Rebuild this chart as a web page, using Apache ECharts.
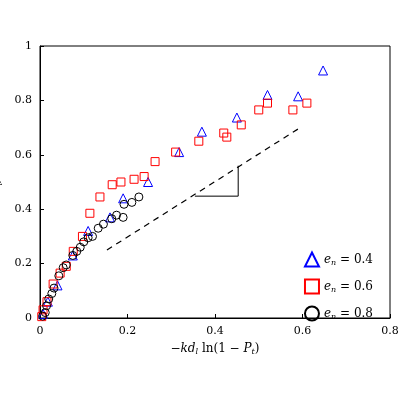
<!DOCTYPE html>
<html><head><meta charset="utf-8">
<script src="https://cdn.jsdelivr.net/npm/echarts@6/dist/echarts.min.js"></script>
<style>body{margin:0}#c{width:400px;height:400px}</style>
</head><body><div id="c"></div>
<script>
var tri04 = [[0.007,0.015],[0.018,0.06],[0.04,0.12],[0.075,0.23],[0.11,0.32],[0.16,0.37],[0.19,0.44],[0.247,0.50],[0.318,0.61],[0.37,0.685],[0.45,0.737],[0.52,0.82],[0.59,0.815],[0.647,0.91]];
var sq06 = [[0.004,0.005],[0.007,0.03],[0.016,0.06],[0.03,0.125],[0.046,0.165],[0.06,0.19],[0.076,0.245],[0.097,0.30],[0.114,0.385],[0.137,0.445],[0.165,0.49],[0.185,0.50],[0.215,0.51],[0.238,0.52],[0.263,0.575],[0.31,0.61],[0.363,0.65],[0.42,0.68],[0.427,0.665],[0.46,0.71],[0.50,0.765],[0.52,0.79],[0.578,0.765],[0.61,0.79]];
var circ08 = [[0.006,0.007],[0.012,0.02],[0.015,0.045],[0.02,0.07],[0.027,0.09],[0.032,0.11],[0.043,0.155],[0.053,0.185],[0.06,0.195],[0.075,0.23],[0.084,0.245],[0.092,0.26],[0.1,0.28],[0.11,0.295],[0.12,0.30],[0.133,0.33],[0.145,0.345],[0.164,0.365],[0.175,0.378],[0.19,0.37],[0.192,0.418],[0.21,0.425],[0.226,0.445]];
var dashLine = [[0.153,0.25],[0.595,0.70]];
var slopeMark = [[0.354,0.448],[0.453,0.448],[0.453,0.56]];
var seriesNames = ['0.4', '0.6', '0.8'];

var chart = echarts.init(document.getElementById('c'));
var fmt = function (v) { return v === 0 ? '0' : (v === 1 ? '1' : String(+v.toFixed(1))); };
var serif = 'DejaVu Serif';
var rich = {
  i: { fontStyle: 'italic', fontFamily: serif, fontSize: 12, color: '#000' },
  s: { fontStyle: 'italic', fontFamily: serif, fontSize: 8, color: '#000', padding: [6, 0, 0, 0] },
  n: { fontFamily: serif, fontSize: 12, color: '#000' }
};
var axisCommon = {
  axisLine: { onZero: false, lineStyle: { color: '#000' } },
  axisTick: { inside: true, length: 4, lineStyle: { color: '#000' } },
  splitLine: { show: false },
  axisLabel: { color: '#000', fontFamily: serif, fontSize: 11, formatter: fmt },
  nameTextStyle: { rich: rich }
};
chart.setOption({
  animation: false,
  grid: { left: 40, right: 10, top: 46, bottom: 82, containLabel: false, outerBoundsMode: 'none',
    show: true, borderColor: '#000', borderWidth: 1 },
  xAxis: Object.assign({ type: 'value', min: 0, max: 0.8, interval: 0.2,
    name: '{n|−}{i|kd}{s|l}{n| ln(1 − }{i|P}{s|t}{n|)}', nameLocation: 'middle', nameGap: 24 }, axisCommon),
  yAxis: Object.assign({ type: 'value', min: 0, max: 1, interval: 0.2,
    name: '{i|d}{s|l}{n|/}{i|λ}', nameLocation: 'middle', nameGap: 24 }, axisCommon),
  legend: {
    right: 22, top: 245, orient: 'vertical', itemGap: 8, itemWidth: 14, itemHeight: 14,
    textStyle: { rich: rich },
    formatter: function (n) { return '{i|e}{s|n}{n| = ' + n + '}'; },
    data: seriesNames
  },
  series: [
    { name: seriesNames[0], type: 'scatter', data: tri04, symbol: 'triangle', symbolSize: 9,
      itemStyle: { color: 'none', borderColor: '#0000ff', borderWidth: 1, opacity: 1 } },
    { name: seriesNames[1], type: 'scatter', data: sq06, symbol: 'rect', symbolSize: 8,
      itemStyle: { color: 'none', borderColor: '#ff0000', borderWidth: 1, opacity: 1 } },
    { name: seriesNames[2], type: 'scatter', data: circ08, symbol: 'circle', symbolSize: 8,
      itemStyle: { color: 'none', borderColor: '#000', borderWidth: 1, opacity: 1 } },
    { type: 'line', data: dashLine, symbol: 'none', lineStyle: { color: '#000', type: [6, 5], width: 1.2 } },
    { type: 'line', data: slopeMark, symbol: 'none', lineStyle: { color: '#000', width: 1 },
      markPoint: { symbol: 'none', data: [{ coord: [0.495, 0.505], label: { show: true, formatter: '1', color: '#000', fontFamily: serif, fontSize: 12 } }] } }
  ]
});
</script></body></html>
